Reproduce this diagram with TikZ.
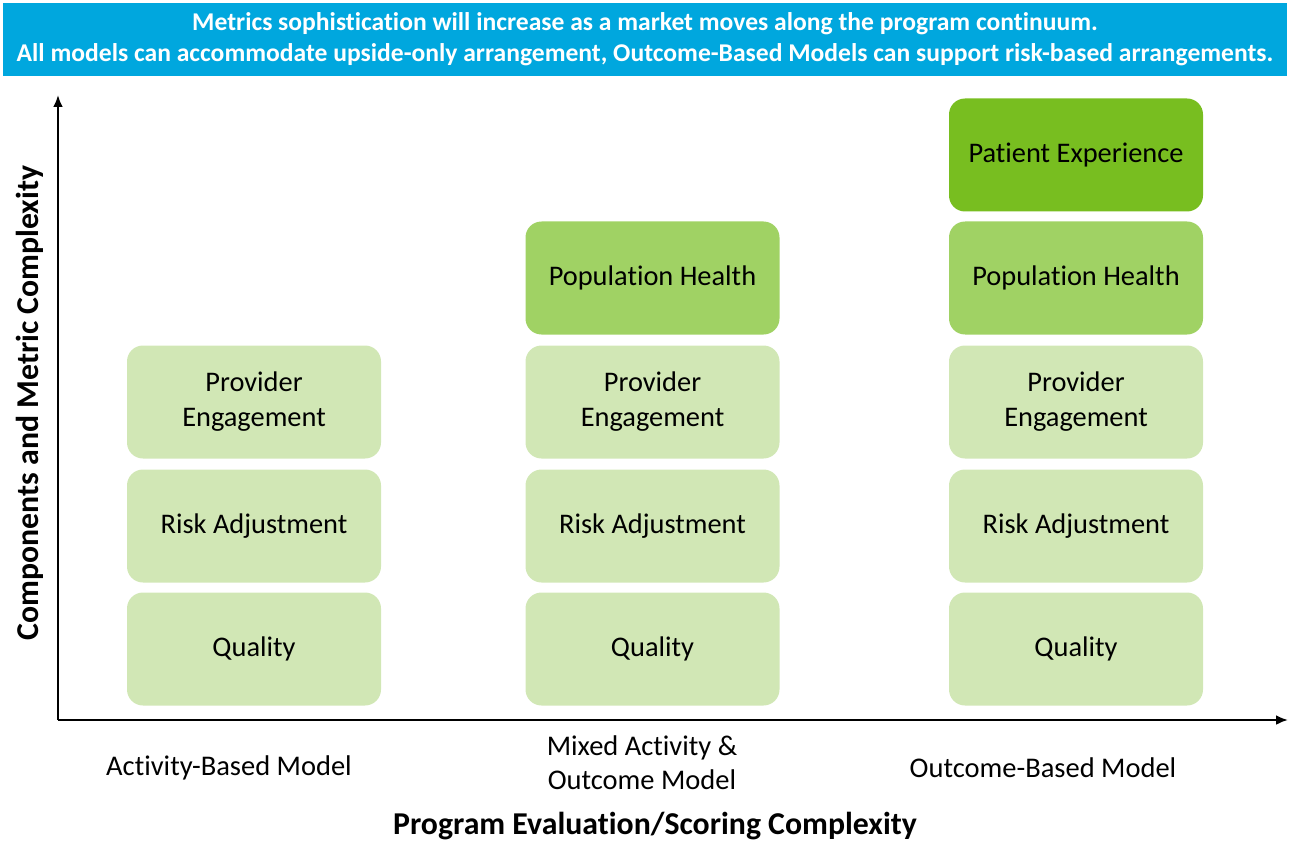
\documentclass[tikz,border=0pt]{standalone}
\usepackage{fontspec}
\setmainfont{Carlito}[Ligatures={NoCommon}]
\usetikzlibrary{arrows.meta}
\definecolor{banner}{RGB}{0,167,222}
\definecolor{gl}{RGB}{209,231,181}
\definecolor{gm}{RGB}{160,210,100}
\definecolor{gd}{RGB}{120,190,32}
\begin{document}
\begin{tikzpicture}[x=1pt,y=-1pt,
  box/.style={rounded corners=16pt, minimum width=254pt, minimum height=113pt, inner sep=0pt, align=center, font=\fontsize{28.4}{35}\selectfont, text=black},
  light/.style={box, fill=gl},
  mid/.style={box, fill=gm},
  dark/.style={box, fill=gd},
  axis/.style={line width=2.8pt, -{Latex[length=12pt,width=10pt]}},
  lab/.style={font=\fontsize{28.5}{34}\selectfont, align=center},
  axlab/.style={font=\bfseries\fontsize{31.8}{36}\selectfont}]
\useasboundingbox (0,0) rectangle (1289,842);
\node[fill=banner, minimum width=1284pt, minimum height=73pt, inner sep=0pt, text=white, align=center,
  font=\bfseries\fontsize{25.6}{31}\selectfont] (banner) at (645,39.5)
  {Metrics sophistication will increase as a market moves along the program continuum.\\All models can accommodate upside-only arrangement, Outcome-Based Models can support risk-based arrangements.};
\coordinate (o) at (58,720);
\coordinate (ytop) at (58,95);
\coordinate (xend) at (1288,720);
\draw[axis] (o) -- (ytop);
\draw[axis] (o) -- (xend);
% column 1
\node[light] (q1) at (254,649) {Quality};
\node[light] (r1) at (254,526) {Risk Adjustment};
\node[light] (p1) at (254,402) {Provider\\Engagement};
% column 2
\node[light] (q2) at (652.5,649) {Quality};
\node[light] (r2) at (652.5,526) {Risk Adjustment};
\node[light] (p2) at (652.5,402) {Provider\\Engagement};
\node[mid] (h2) at (652.5,278) {Population Health};
% column 3
\node[light] (q3) at (1076,649) {Quality};
\node[light] (r3) at (1076,526) {Risk Adjustment};
\node[light] (p3) at (1076,402) {Provider\\Engagement};
\node[mid] (h3) at (1076,278) {Population Health};
\node[dark] (e3) at (1076,155) {Patient Experience};
% labels
\node[lab] (l1) at (229,768) {Activity-Based Model};
\node[lab] (l2) at (642,763) {Mixed Activity \&\\Outcome Model};
\node[lab] (l3) at (1043,768) {Outcome-Based Model};
\node[axlab] (xl) at (655,826) {Program Evaluation/Scoring Complexity};
\node[axlab, rotate=90] (yl) at (30,403) {Components and Metric Complexity};
\end{tikzpicture}
\end{document}
